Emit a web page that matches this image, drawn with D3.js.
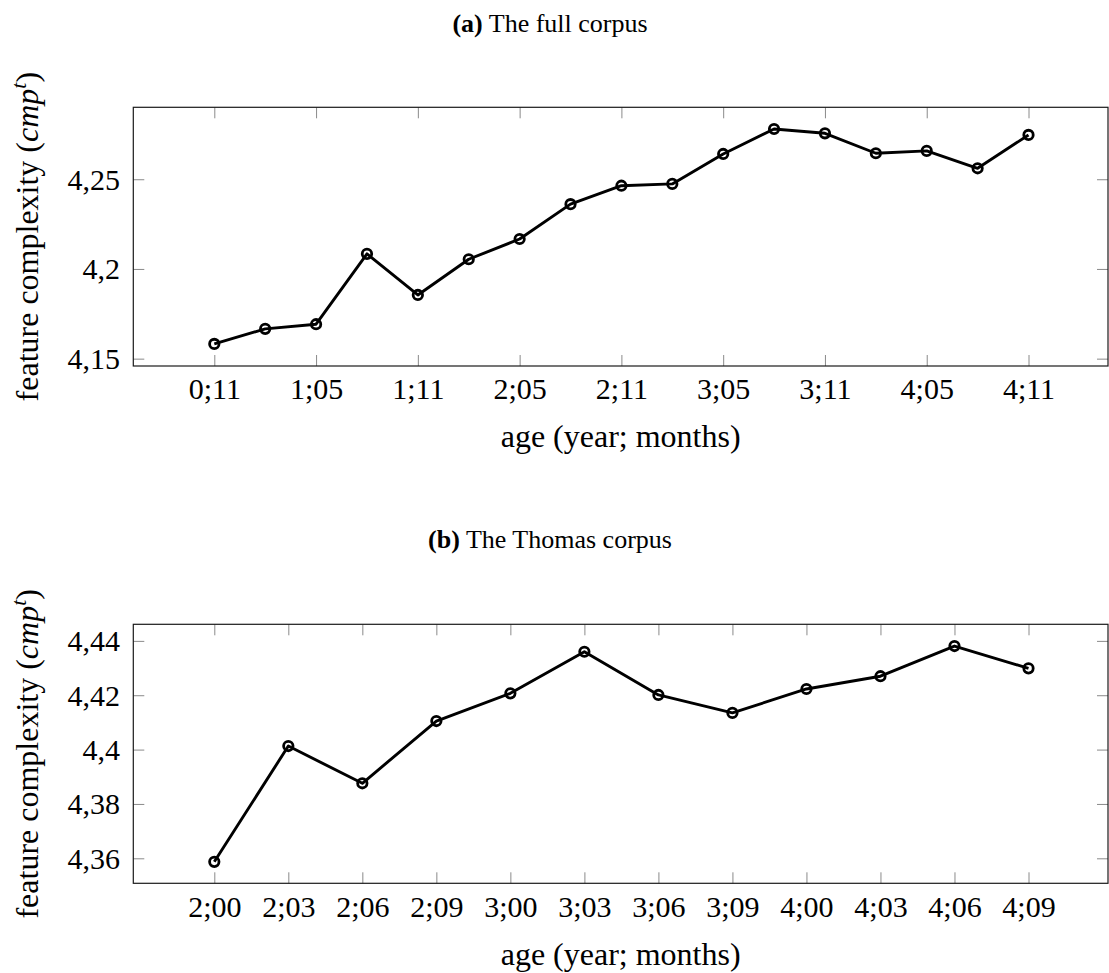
<!DOCTYPE html>
<html>
<head>
<meta charset="utf-8">
<script src="https://cdn.jsdelivr.net/npm/d3@7"></script>
<style>
  html, body { margin: 0; padding: 0; background: #fff; }
  svg { display: block; }
  svg text { font-family: "Liberation Serif", "Times New Roman", serif; fill: #000; }
</style>
</head>
<body>
<svg id="chart" width="1109" height="973" font-family="Liberation Serif, serif"></svg>
<script>
// ---------- data ----------
const fullAges = ["0;11","1;02","1;05","1;08","1;11","2;02","2;05","2;08","2;11",
                  "3;02","3;05","3;08","3;11","4;02","4;05","4;08","4;11"];
const fullValues = [4.1582, 4.1666, 4.1692, 4.2084, 4.1855, 4.2054, 4.2167, 4.2361, 4.2464,
                    4.2474, 4.2641, 4.2780, 4.2756, 4.2645, 4.2658, 4.2561, 4.2747];
const fullXTickLabels = ["0;11","1;05","1;11","2;05","2;11","3;05","3;11","4;05","4;11"];
const fullYTicks = [4.15, 4.20, 4.25];

const thomasAges = ["2;00","2;03","2;06","2;09","3;00","3;03","3;06","3;09","4;00","4;03","4;06","4;09"];
const thomasValues = [4.3587, 4.4013, 4.3876, 4.4105, 4.4207, 4.4360, 4.4201, 4.4135,
                      4.4223, 4.4270, 4.4381, 4.4299];
const thomasXTickLabels = thomasAges;
const thomasYTicks = [4.36, 4.38, 4.40, 4.42, 4.44];

const titles = [["(a)", " The full corpus"], ["(b)", " The Thomas corpus"]];
const xLabel = "age (year; months)";

// ---------- layout ----------
const SERIF = "'Liberation Serif', 'Times New Roman', serif";
const svg = d3.select("#chart");
const fmt = v => String(+v.toFixed(2)).replace(".", ",");

function panel(cfg) {
  const {ages, values, xTickLabels, yTicks, yDomain, top, bottom, title, titleY} = cfg;
  const left = 133.3, right = 1108;
  const x = d3.scaleLinear().domain([0, ages.length - 1]).range([214.3, 1028.5]);
  const y = d3.scaleLinear().domain(yDomain).range([bottom, top]);
  const tickIdx = xTickLabels.map(l => ages.indexOf(l));

  const g = svg.append("g");

  // title
  const t = g.append("text").attr("x", 550).attr("y", titleY)
    .attr("text-anchor", "middle").style("font-family", SERIF).style("font-size", "26px");
  t.append("tspan").style("font-weight", "bold").text(title[0]);
  t.append("tspan").text(title[1]);

  const tickLen = 11;
  const styleAxis = sel => {
    sel.attr("font-family", SERIF);
    sel.select(".domain").remove();
    sel.selectAll(".tick line").attr("stroke", "#8a8a8a").attr("stroke-width", 1);
    sel.selectAll(".tick text").style("font-family", SERIF)
      .style("font-size", "30px").attr("fill", "#000");
  };

  // bottom x axis
  const xb = g.append("g").attr("transform", `translate(0,${bottom})`)
    .call(d3.axisBottom(x).tickValues(tickIdx).tickFormat(i => ages[i]).tickSizeInner(-tickLen).tickSizeOuter(0))
    .call(styleAxis);
  xb.selectAll(".tick text").attr("y", 33.3).attr("dy", 0);

  // top x axis (ticks only)
  g.append("g").attr("transform", `translate(0,${top})`)
    .call(d3.axisTop(x).tickValues(tickIdx).tickFormat("").tickSizeInner(-tickLen).tickSizeOuter(0))
    .call(styleAxis);

  // left y axis
  const yl = g.append("g").attr("transform", `translate(${left},0)`)
    .call(d3.axisLeft(y).tickValues(yTicks).tickFormat(fmt).tickSizeInner(-tickLen).tickSizeOuter(0))
    .call(styleAxis);
  yl.selectAll(".tick text").attr("x", -13.3).attr("dy", 10);

  // right y axis (ticks only)
  g.append("g").attr("transform", `translate(${right},0)`)
    .call(d3.axisRight(y).tickValues(yTicks).tickFormat("").tickSizeInner(-tickLen).tickSizeOuter(0))
    .call(styleAxis);

  // frame
  g.append("rect").attr("x", left).attr("y", top)
    .attr("width", right - left).attr("height", bottom - top)
    .attr("fill", "none").attr("stroke", "#1a1a1a").attr("stroke-width", 1.2);

  // x label
  g.append("text").attr("x", (left + right) / 2).attr("y", bottom + 81.3)
    .attr("text-anchor", "middle").style("font-family", SERIF).style("font-size", "32px").text(xLabel);

  // y label
  const yc = (top + bottom) / 2;
  const yt = g.append("text")
    .attr("transform", `translate(37.5,${yc}) rotate(-90)`)
    .attr("text-anchor", "middle").style("font-family", SERIF).style("font-size", "32px");
  yt.append("tspan").text("feature complexity (");
  yt.append("tspan").style("font-style", "italic").text("cmp");
  yt.append("tspan").style("font-style", "italic").style("font-size", "22px")
    .attr("dy", -12).text("t");
  yt.append("tspan").attr("dy", 12).text(")");

  // line
  const line = d3.line().x((d, i) => x(i)).y(d => y(d));
  g.append("path").datum(values).attr("d", line)
    .attr("fill", "none").attr("stroke", "#000").attr("stroke-width", 2.9)
    .attr("stroke-linejoin", "round");

  // markers
  g.selectAll("circle.m").data(values).enter().append("circle")
    .attr("class", "m")
    .attr("cx", (d, i) => x(i)).attr("cy", d => y(d)).attr("r", 4.7)
    .attr("fill", "none").attr("stroke", "#000").attr("stroke-width", 2.8);
}

panel({ages: fullAges, values: fullValues, xTickLabels: fullXTickLabels, yTicks: fullYTicks,
       yDomain: [4.1459, 4.2901], top: 107.3, bottom: 366, title: titles[0], titleY: 32});
panel({ages: thomasAges, values: thomasValues, xTickLabels: thomasXTickLabels, yTicks: thomasYTicks,
       yDomain: [4.3508, 4.4461], top: 624.3, bottom: 883.3, title: titles[1], titleY: 548.3});
</script>
</body>
</html>
